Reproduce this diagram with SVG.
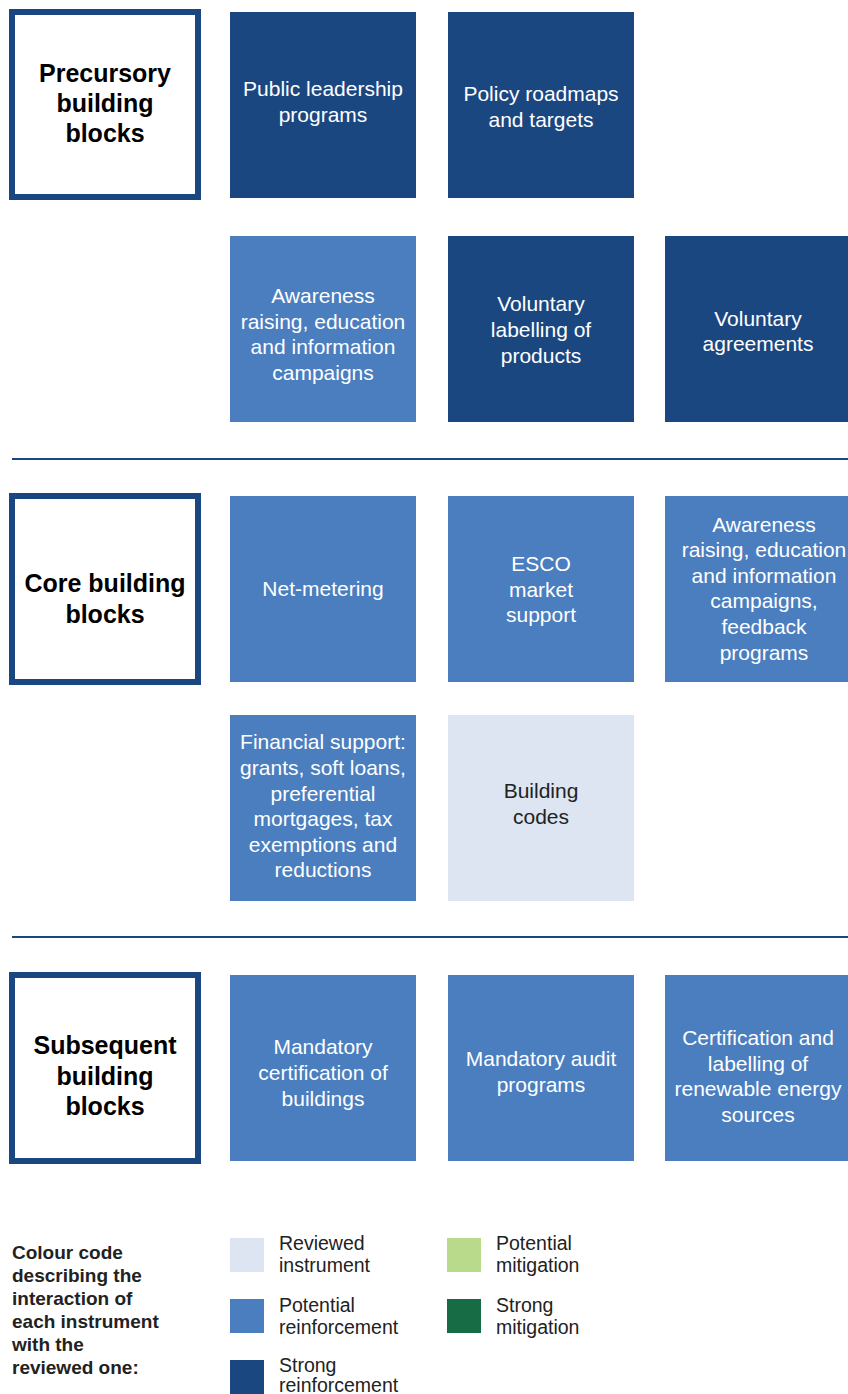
<svg xmlns="http://www.w3.org/2000/svg" width="848" height="1394" viewBox="0 0 848 1394">
<style>
.hdr{fill:#fff;stroke:#1B4781;stroke-width:6}
.t{font-family:"Liberation Sans",Arial,sans-serif;font-size:21px;text-anchor:middle;fill:#fff}
.td{fill:#222}
.h{font-family:"Liberation Sans",Arial,sans-serif;font-size:25px;font-weight:bold;text-anchor:middle;fill:#000}
.lg{font-family:"Liberation Sans",Arial,sans-serif;font-size:19.5px;fill:#222}
.lb{font-family:"Liberation Sans",Arial,sans-serif;font-size:19px;font-weight:bold;fill:#222}
.s{fill:#1B4781}.p{fill:#4A7EBF}.r{fill:#DCE5F1}.gm{fill:#B8DA8A}.gs{fill:#176B45}
.div{stroke:#1B4781;stroke-width:2}
</style>
<rect width="848" height="1394" fill="#fff"/>
<g id="dividers">
<line class="div" x1="12" y1="459" x2="848" y2="459"/>
<line class="div" x1="12" y1="937" x2="848" y2="937"/>
</g>
<g id="precursory">
<rect class="hdr" x="12" y="12" width="186" height="185"/>
<text class="h" x="105"><tspan x="105" y="82">Precursory</tspan><tspan x="105" y="112">building</tspan><tspan x="105" y="142">blocks</tspan></text>
</g>
<g id="public-leadership"><rect class="s" x="230" y="12" width="186" height="186"/>
<text class="t"><tspan x="323" y="96">Public leadership</tspan><tspan x="323" y="122">programs</tspan></text></g>
<g id="policy-roadmaps"><rect class="s" x="448" y="12" width="186" height="186"/>
<text class="t"><tspan x="541" y="101">Policy roadmaps</tspan><tspan x="541" y="127">and targets</tspan></text></g>
<g id="awareness-1"><rect class="p" x="230" y="236" width="186" height="186"/>
<text class="t"><tspan x="323" y="303">Awareness</tspan><tspan x="323" y="329">raising, education</tspan><tspan x="323" y="354">and information</tspan><tspan x="323" y="380">campaigns</tspan></text></g>
<g id="voluntary-labelling"><rect class="s" x="448" y="236" width="186" height="186"/>
<text class="t"><tspan x="541" y="311">Voluntary</tspan><tspan x="541" y="337">labelling of</tspan><tspan x="541" y="363">products</tspan></text></g>
<g id="voluntary-agreements"><rect class="s" x="665" y="236" width="186" height="186"/>
<text class="t"><tspan x="758" y="326">Voluntary</tspan><tspan x="758" y="351">agreements</tspan></text></g>

<g id="core">
<rect class="hdr" x="12" y="496" width="186" height="186"/>
<text class="h"><tspan x="105" y="592">Core building</tspan><tspan x="105" y="623">blocks</tspan></text>
</g>
<g id="net-metering"><rect class="p" x="230" y="496" width="186" height="186"/>
<text class="t"><tspan x="323" y="596">Net-metering</tspan></text></g>
<g id="esco"><rect class="p" x="448" y="496" width="186" height="186"/>
<text class="t"><tspan x="541" y="571">ESCO</tspan><tspan x="541" y="597">market</tspan><tspan x="541" y="622">support</tspan></text></g>
<g id="awareness-2"><rect class="p" x="665" y="496" width="186" height="186"/>
<text class="t"><tspan x="764" y="532">Awareness</tspan><tspan x="764" y="557">raising, education</tspan><tspan x="764" y="583">and information</tspan><tspan x="764" y="608">campaigns,</tspan><tspan x="764" y="634">feedback</tspan><tspan x="764" y="660">programs</tspan></text></g>
<g id="financial-support"><rect class="p" x="230" y="715" width="186" height="186"/>
<text class="t"><tspan x="323" y="749">Financial support:</tspan><tspan x="323" y="775">grants, soft loans,</tspan><tspan x="323" y="801">preferential</tspan><tspan x="323" y="826">mortgages, tax</tspan><tspan x="323" y="852">exemptions and</tspan><tspan x="323" y="877">reductions</tspan></text></g>
<g id="building-codes"><rect class="r" x="448" y="715" width="186" height="186"/>
<text class="t td"><tspan x="541" y="798">Building</tspan><tspan x="541" y="824">codes</tspan></text></g>

<g id="subsequent">
<rect class="hdr" x="12" y="975" width="186" height="186"/>
<text class="h"><tspan x="105" y="1054">Subsequent</tspan><tspan x="105" y="1085">building</tspan><tspan x="105" y="1115">blocks</tspan></text>
</g>
<g id="mandatory-certification"><rect class="p" x="230" y="975" width="186" height="186"/>
<text class="t"><tspan x="323" y="1054">Mandatory</tspan><tspan x="323" y="1080">certification of</tspan><tspan x="323" y="1106">buildings</tspan></text></g>
<g id="mandatory-audit"><rect class="p" x="448" y="975" width="186" height="186"/>
<text class="t"><tspan x="541" y="1066">Mandatory audit</tspan><tspan x="541" y="1092">programs</tspan></text></g>
<g id="certification-res"><rect class="p" x="665" y="975" width="186" height="186"/>
<text class="t"><tspan x="758" y="1045">Certification and</tspan><tspan x="758" y="1071">labelling of</tspan><tspan x="758" y="1096">renewable energy</tspan><tspan x="758" y="1122">sources</tspan></text></g>

<g id="legend">
<text class="lb"><tspan x="12" y="1259">Colour code</tspan><tspan x="12" y="1282">describing the</tspan><tspan x="12" y="1305">interaction of</tspan><tspan x="12" y="1328">each instrument</tspan><tspan x="12" y="1351">with the</tspan><tspan x="12" y="1374">reviewed one:</tspan></text>
<rect class="r" x="230" y="1238" width="34" height="34"/>
<text class="lg"><tspan x="279" y="1250">Reviewed</tspan><tspan x="279" y="1272">instrument</tspan></text>
<rect class="p" x="230" y="1299" width="34" height="34"/>
<text class="lg"><tspan x="279" y="1312">Potential</tspan><tspan x="279" y="1334">reinforcement</tspan></text>
<rect class="s" x="230" y="1360" width="34" height="34"/>
<text class="lg"><tspan x="279" y="1372">Strong</tspan><tspan x="279" y="1392">reinforcement</tspan></text>
<rect class="gm" x="447" y="1238" width="34" height="34"/>
<text class="lg"><tspan x="496" y="1250">Potential</tspan><tspan x="496" y="1272">mitigation</tspan></text>
<rect class="gs" x="447" y="1299" width="34" height="34"/>
<text class="lg"><tspan x="496" y="1312">Strong</tspan><tspan x="496" y="1334">mitigation</tspan></text>
</g>
</svg>
